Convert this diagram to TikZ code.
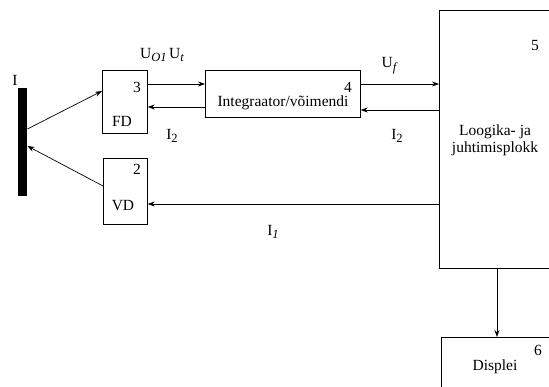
\documentclass[tikz,border=0pt]{standalone}
\usepackage{fontspec}
\setmainfont{Liberation Serif}
\usetikzlibrary{arrows.meta}
\newcommand{\sbs}[1]{\raisebox{-3.5pt}{\fontsize{12.5}{13}\selectfont #1}}
\begin{document}
\begin{tikzpicture}[x=1pt,y=-1pt,
  box/.style={draw,line width=0.7pt,inner sep=0pt,anchor=north west},
  arr/.style={line width=0.7pt,-{Stealth[length=7pt,width=5pt]}},
  txt/.style={font=\fontsize{15.5}{17}\selectfont,inner sep=0pt},
  num/.style={font=\fontsize{15.5}{17}\selectfont,inner sep=0pt}]
\useasboundingbox (0,0) rectangle (549,387);
\clip (0,0) rectangle (549,387);
% bar
\node[fill=black,inner sep=0pt,minimum width=9pt,minimum height=108pt,anchor=north west] (bar) at (18,88) {};
\node[txt] (barlab) at (15,80) {I};
% boxes
\node[box,minimum width=45pt,minimum height=63pt] (fd) at (102,70) {};
\node[box,minimum width=44pt,minimum height=66pt] (vd) at (103,158) {};
\node[box,minimum width=155pt,minimum height=47pt] (int) at (205,70) {};
\node[box,minimum width=170pt,minimum height=258pt] (lo) at (439,10) {};
\node[box,minimum width=170pt,minimum height=90pt] (di) at (441,337) {};
% box texts
\node[num] (n3) at (137,87) {3};
\node[txt] (tfd) at (122,121) {FD};
\node[num] (n2) at (137,169) {2};
\node[txt] (tvd) at (123,206) {VD};
\node[num] (n4) at (348,87) {4};
\node[txt] (tint) at (283,103) {Integraator/võimendi};
\node[num] (n5) at (535,46) {5};
\node[txt,align=center] (tlo) at (495,140) {Loogika- ja\\juhtimisplokk};
\node[num] (n6) at (538,350) {6};
\node[txt] (tdi) at (495,367) {Displei};
% connectors
\draw[arr] (bar.east|-{(0,129)}) -- (fd.west|-{(0,91)});
\draw[arr] (vd.west|-{(0,186)}) -- (bar.east|-{(0,146)});
\draw[arr] (fd.east|-{(0,84)}) -- (int.west|-{(0,84)});
\draw[arr] (int.west|-{(0,107)}) -- (fd.east|-{(0,107)});
\draw[arr] (int.east|-{(0,84)}) -- (lo.west|-{(0,84)});
\draw[arr] (lo.west|-{(0,110)}) -- (int.east|-{(0,110)});
\draw[arr] (lo.west|-{(0,204)}) -- (vd.east|-{(0,204)});
\draw[arr] (lo.south-|{(497,0)}) -- (di.north-|{(497,0)});
% signal labels
\node[txt] (luo) at (162,55) {U\sbs{\itshape O1}\,U\sbs{\itshape t}};
\node[txt] (luf) at (389,66) {U\sbs{\itshape f}};
\node[txt] (li2a) at (172,136) {I\sbs{2}};
\node[txt] (li2b) at (397,136) {I\sbs{2}};
\node[txt] (li1) at (273,232) {I\sbs{\itshape 1}};
\end{tikzpicture}
\end{document}
